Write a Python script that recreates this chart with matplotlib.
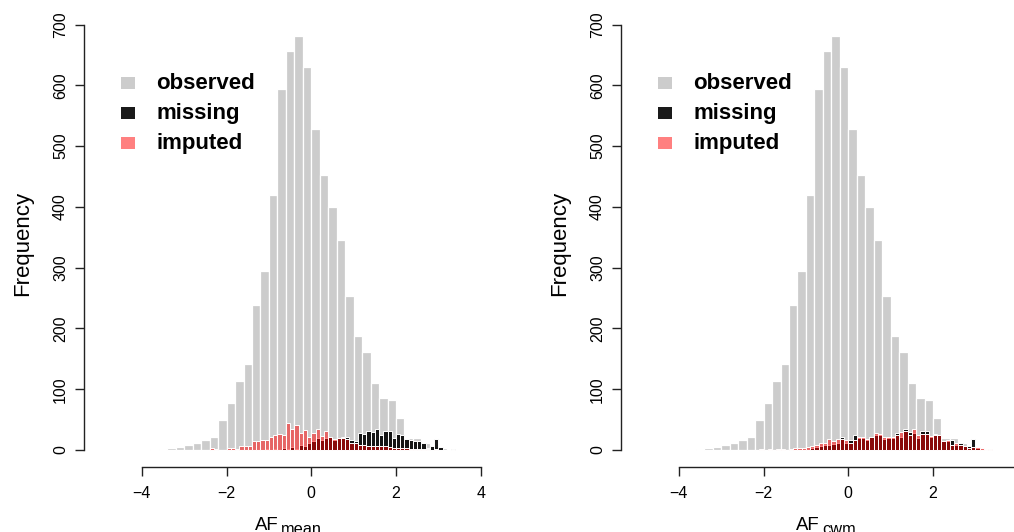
import numpy as np
import matplotlib
matplotlib.use("Agg")
import matplotlib.pyplot as plt
from matplotlib.patches import Rectangle

plt.rcParams['font.family'] = ['Liberation Sans', 'DejaVu Sans']
plt.rcParams['axes.unicode_minus'] = True

W, H, DPI = 1014, 532, 100

# Observed values: histogram counts on 0.2-wide bins starting at -3.8
obs_start, obs_width = -3.8, 0.2
observed = [1, 2, 3, 5, 8, 11, 16, 22, 49, 78,
            114, 141, 239, 295, 419, 594, 657, 681, 631, 528,
            452, 400, 346, 253, 188, 161, 110, 85, 82, 52,
            20, 20, 12, 6, 3, 2]

# Missing / imputed values: counts on 0.1-wide bins starting at -2.5
fine_start, fine_width = -2.5, 0.1
mean_missing = [0, 0, 0, 0, 0, 0, 0, 0, 0, 0,
                0, 0, 0, 0, 1, 0, 1, 0, 3, 1,
                5, 2, 8, 6, 12, 14, 20, 16, 20, 21,
                16, 19, 22, 21, 16, 14, 28, 26, 32, 30,
                35, 24, 32, 32, 19, 26, 25, 18, 16, 14,
                15, 12, 4, 7, 18, 5, 0, 0, 2]
mean_imputed = [0, 3, 1, 0, 0, 4, 4, 1, 7, 7,
                7, 14, 15, 16, 16, 22, 24, 27, 25, 45,
                34, 41, 28, 33, 22, 28, 35, 23, 32, 21,
                18, 19, 19, 18, 11, 11, 9, 8, 7, 7,
                6, 7, 6, 5, 4, 4, 3, 3, 2, 2,
                1, 1, 1, 0, 1, 0, 0, 0, 0]
cwm_missing = [0, 0, 0, 0, 0, 0, 0, 0, 0, 0,
               0, 0, 0, 0, 0, 0, 3, 5, 6, 8,
               8, 10, 12, 22, 12, 17, 25, 20, 20, 16,
               21, 24, 25, 18, 20, 20, 28, 22, 34, 30,
               28, 20, 32, 32, 22, 27, 24, 14, 15, 16,
               9, 12, 6, 7, 18, 4, 0, 0, 1]
cwm_imputed = [0, 0, 0, 0, 2, 0, 2, 0, 1, 2,
               0, 2, 3, 4, 3, 5, 7, 8, 12, 12,
               18, 15, 18, 18, 17, 11, 16, 22, 21, 18,
               22, 28, 26, 22, 21, 22, 24, 30, 32, 25,
               34, 24, 27, 26, 23, 25, 25, 15, 16, 9,
               11, 9, 7, 3, 5, 5, 3, 2, 1]

x_ticks = [-4, -2, 0, 2, 4]
y_ticks = [0, 100, 200, 300, 400, 500, 600, 700]
legend_labels = ["observed", "missing", "imputed"]

col_obs = "#cccccc"
col_mis = (0, 0, 0, 0.9)
col_imp = (1, 0, 0, 0.5)
legend_colors = ["#cccccc", "#1a1a1a", "#ff8080"]

fig = plt.figure(figsize=(W / DPI, H / DPI), dpi=DPI)


def px_axes(left, right, top, bottom):
    return fig.add_axes([left / W, 1 - bottom / H, (right - left) / W, (bottom - top) / H])


def edges(start, width, n):
    return start + width * np.arange(n)


def panel(ax, missing, imputed):
    ax.bar(edges(obs_start, obs_width, len(observed)), observed, width=obs_width,
           align='edge', color=col_obs, edgecolor='white', linewidth=0.9)
    ax.bar(edges(fine_start, fine_width, len(missing)), missing, width=fine_width,
           align='edge', color=col_mis, edgecolor='white', linewidth=0.7)
    ax.bar(edges(fine_start, fine_width, len(imputed)), imputed, width=fine_width,
           align='edge', color=col_imp, edgecolor='white', linewidth=0.7)

    ax.set_xlim(-5.367, 5.40)
    ax.set_ylim(-27.98, 707)
    for s in ('top', 'right'):
        ax.spines[s].set_visible(False)
    ax.spines['left'].set_bounds(0, 700)
    ax.spines['bottom'].set_bounds(-4, 4)
    for s in ('left', 'bottom'):
        ax.spines[s].set_linewidth(1.0)
        ax.spines[s].set_color('#222222')
    ax.set_xticks(x_ticks)
    ax.set_xticklabels([f"{t}".replace("-", "\u2212") for t in x_ticks])
    ax.set_yticks(y_ticks)
    ax.set_yticklabels([str(t) for t in y_ticks], rotation=90, va='center')
    ax.tick_params(direction='out', length=6.5, width=1.0, color='#222222',
                   labelsize=11.5, pad=5)
    ax.tick_params(axis='x', pad=7.5)
    ax.patch.set_visible(False)

    # legend: filled squares with bold labels
    baselines = [593.6, 544.3, 494.9]
    for lab, c, b in zip(legend_labels, legend_colors, baselines):
        ax.add_patch(Rectangle((-4.49, b), 0.33, 20.9, facecolor=c, edgecolor='none'))
        ax.text(-3.66, b, lab, fontsize=16, fontweight='bold', ha='left', va='baseline')


ax1 = px_axes(84, 540, 20.4, 467)
panel(ax1, mean_missing, mean_imputed)
ax2 = px_axes(621, 1077, 20.4, 467)
panel(ax2, cwm_missing, cwm_imputed)


def ftext(x, y, s, **kw):
    fig.text(x / W, 1 - y / H, s, **kw)


for xb in (28.3, 565.3):
    ftext(xb, 243.7, "Frequency", fontsize=16, rotation=90, rotation_mode='anchor',
          ha='center', va='baseline')

ftext(255, 530.0, "AF", fontsize=13.4, ha='left', va='baseline')
ftext(281, 533.5, "mean", fontsize=11.8, ha='left', va='baseline')
ftext(796, 530.0, "AF", fontsize=13.4, ha='left', va='baseline')
ftext(822, 533.5, "cwm", fontsize=11.8, ha='left', va='baseline')

fig.savefig("out.png", dpi=DPI, facecolor='white')
